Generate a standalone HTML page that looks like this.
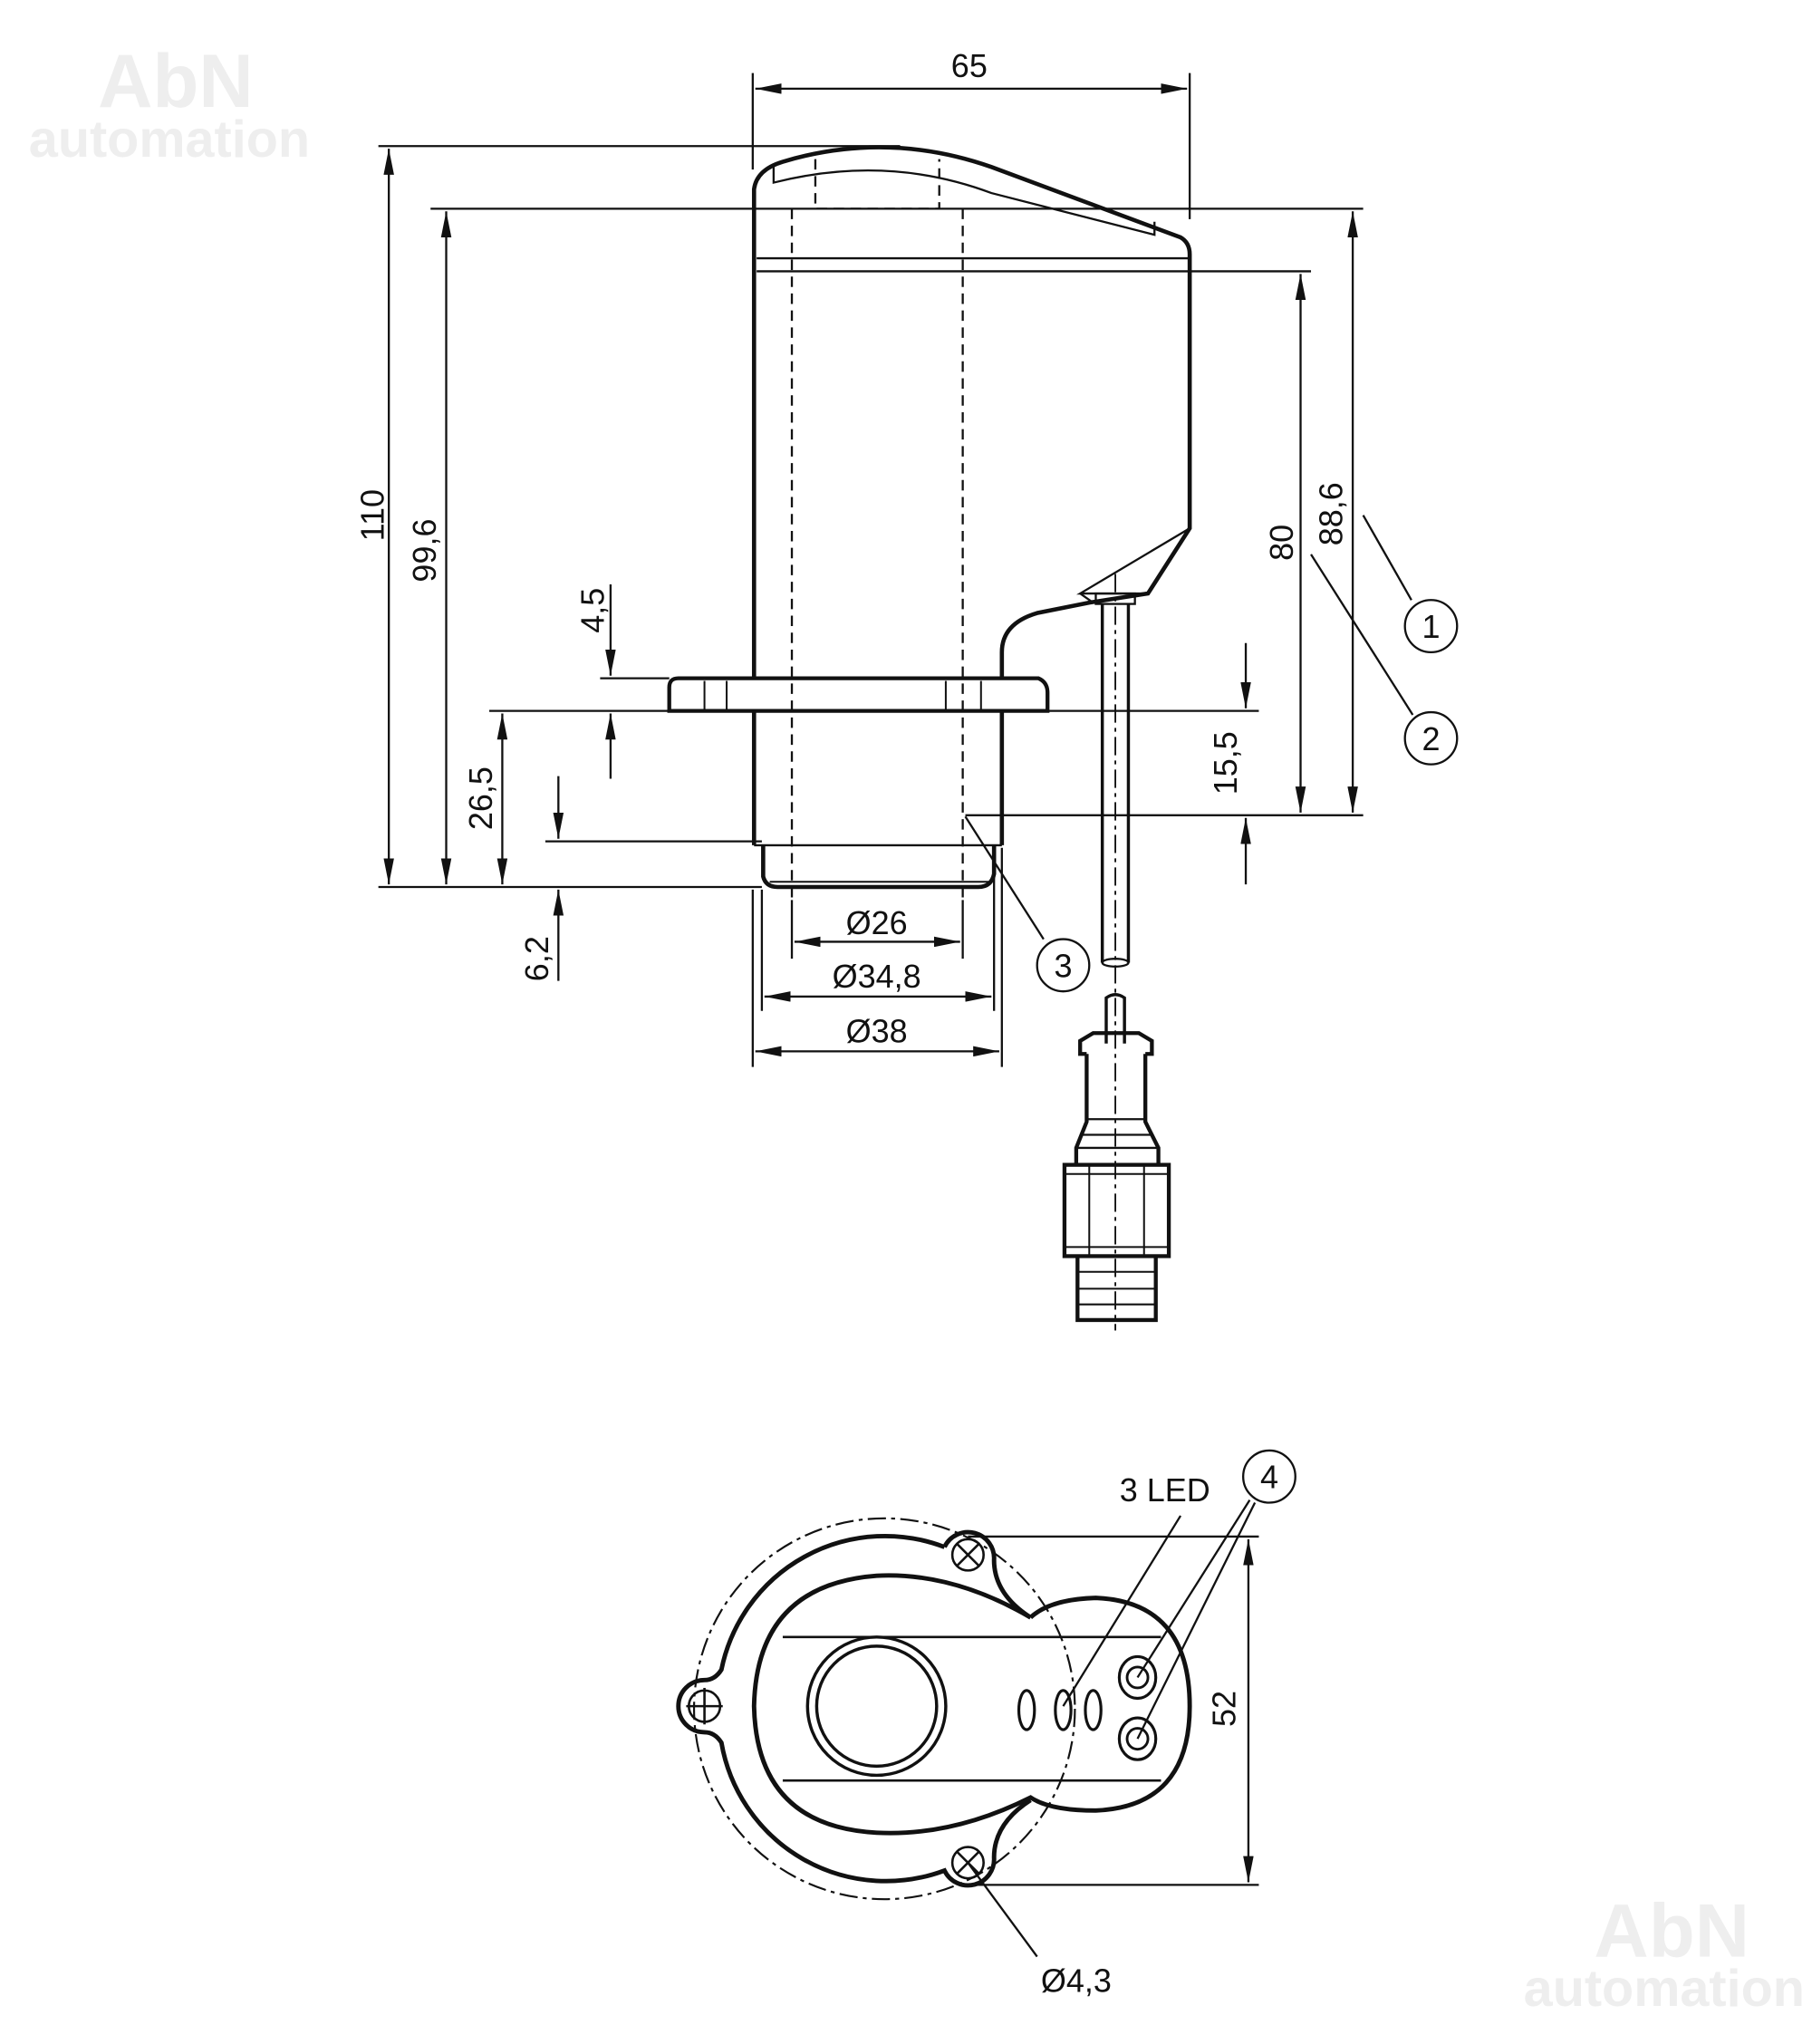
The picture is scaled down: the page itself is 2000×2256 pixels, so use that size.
<!DOCTYPE html>
<html><head><meta charset="utf-8"><style>
html,body{margin:0;padding:0;background:#fff}
svg{display:block}
text{font-family:"Liberation Sans",sans-serif;fill:#111}
</style></head><body>
<svg width="2000" height="2256" viewBox="0 0 1389 1567" xmlns="http://www.w3.org/2000/svg">
<defs>
<marker id="a" viewBox="0 0 20 8" refX="20" refY="4" markerWidth="20" markerHeight="8" markerUnits="userSpaceOnUse" orient="auto-start-reverse"><path d="M0,0 L20,4 L0,8 Z" fill="#111"/></marker>
</defs>
<g font-weight="bold">
<text x="75" y="82" font-size="58" style="fill:#eeeeee">AbN</text>
<text x="22" y="120" font-size="40" style="fill:#eeeeee">automation</text>
<text x="1222" y="1500" font-size="58" style="fill:#eeeeee">AbN</text>
<text x="1168" y="1538" font-size="40" style="fill:#eeeeee">automation</text>
</g>
<g stroke="#111" fill="none" stroke-width="1.6">
<line x1="290" y1="112" x2="690" y2="112"/>
<line x1="330" y1="160" x2="1045" y2="160"/>
<line x1="580" y1="198" x2="912" y2="198"/>
<line x1="580" y1="208" x2="1005" y2="208"/>
<line x1="460" y1="520" x2="513" y2="520"/>
<line x1="375" y1="545" x2="965" y2="545"/>
<line x1="740" y1="625" x2="1045" y2="625"/>
<line x1="418" y1="645" x2="584" y2="645"/>
<line x1="290" y1="680" x2="584" y2="680"/>
<line x1="577" y1="56" x2="577" y2="130"/>
<line x1="912" y1="56" x2="912" y2="168"/>
<line x1="607" y1="690" x2="607" y2="735"/>
<line x1="738" y1="690" x2="738" y2="735"/>
<line x1="584" y1="682" x2="584" y2="775"/>
<line x1="762" y1="650" x2="762" y2="775"/>
<line x1="577" y1="682" x2="577" y2="818"/>
<line x1="768" y1="650" x2="768" y2="818"/>
<line x1="579" y1="68" x2="910" y2="68" marker-start="url(#a)" marker-end="url(#a)"/>
<line x1="298" y1="114" x2="298" y2="678" marker-start="url(#a)" marker-end="url(#a)"/>
<line x1="342" y1="162" x2="342" y2="678" marker-start="url(#a)" marker-end="url(#a)"/>
<line x1="385" y1="547" x2="385" y2="678" marker-start="url(#a)" marker-end="url(#a)"/>
<line x1="468" y1="448" x2="468" y2="518" marker-end="url(#a)"/>
<line x1="468" y1="597" x2="468" y2="547" marker-end="url(#a)"/>
<line x1="428" y1="595" x2="428" y2="643" marker-end="url(#a)"/>
<line x1="428" y1="752" x2="428" y2="682" marker-end="url(#a)"/>
<line x1="997" y1="210" x2="997" y2="623" marker-start="url(#a)" marker-end="url(#a)"/>
<line x1="1037" y1="162" x2="1037" y2="623" marker-start="url(#a)" marker-end="url(#a)"/>
<line x1="955" y1="493" x2="955" y2="543" marker-end="url(#a)"/>
<line x1="955" y1="678" x2="955" y2="627" marker-end="url(#a)"/>
<line x1="609" y1="722" x2="736" y2="722" marker-start="url(#a)" marker-end="url(#a)"/>
<line x1="586" y1="764" x2="760" y2="764" marker-start="url(#a)" marker-end="url(#a)"/>
<line x1="579" y1="806" x2="766" y2="806" marker-start="url(#a)" marker-end="url(#a)"/>
<line x1="1045" y1="395" x2="1082" y2="460"/>
<line x1="1005" y1="425" x2="1083" y2="548"/>
<line x1="740" y1="626" x2="800" y2="720"/>
<circle cx="1097" cy="480" r="20"/>
<circle cx="1097" cy="566" r="20"/>
<circle cx="815" cy="740" r="20"/>
</g>
<g stroke="#111" fill="none">
<path d="M578,520 L578,145 Q580,130 600,124 Q680,100 760,128 L905,182 Q912,186 912,195 L912,405 L880,455 L835,462 L795,470 Q768,478 768,500 L768,520" stroke-width="3.2"/>
<path d="M593,128 L593,140 Q680,118 760,148 L885,180 L885,170" stroke-width="1.6"/>
<path d="M880,455 L828,455 L912,405" stroke-width="1.6"/>
<path d="M828,455 L838,462" stroke-width="1.6"/>
<path d="M625,122 L625,160 L720,160 L720,122" stroke-width="1.6" stroke-dasharray="8,5"/>
<line x1="607" y1="160" x2="607" y2="690" stroke-width="1.6" stroke-dasharray="8,5"/>
<line x1="738" y1="160" x2="738" y2="690" stroke-width="1.6" stroke-dasharray="8,5"/>
<path d="M513,545 L513,527 Q513,520 520,520 L796,520 Q803,523 803,531 L803,545 Z" stroke-width="3"/>
<line x1="540" y1="522" x2="540" y2="545" stroke-width="1.4"/>
<line x1="557" y1="522" x2="557" y2="545" stroke-width="1.4"/>
<line x1="752" y1="522" x2="752" y2="545" stroke-width="1.4"/>
<line x1="725" y1="522" x2="725" y2="545" stroke-width="1.4"/>
<line x1="578" y1="545" x2="578" y2="648" stroke-width="3.2"/>
<line x1="768" y1="545" x2="768" y2="648" stroke-width="3.2"/>
<line x1="578" y1="648" x2="768" y2="648" stroke-width="1.6"/>
<path d="M585,648 L585,672 Q587,680 596,680 L750,680 Q760,680 762,670 L762,648" stroke-width="3.2"/>
<line x1="590" y1="676" x2="758" y2="676" stroke-width="1.4"/>
<rect x="840" y="455" width="30" height="8" stroke-width="1.6"/>
<path d="M845,463 L845,738 M865,463 L865,738" stroke-width="2.4"/>
<ellipse cx="855" cy="738" rx="10" ry="3" stroke-width="1.6"/>
<path d="M848,800 L848,765 Q855,760 862,765 L862,800" stroke-width="2.4"/>
<line x1="855" y1="440" x2="855" y2="1020" stroke-width="1.3" stroke-dasharray="14,4,3,4"/>
<path d="M833,808 L828,808 L828,798 L838,792 L873,792 L883,798 L883,808 L878,808" stroke-width="3"/>
<path d="M833,808 L833,860 L825,880 L825,893 M878,808 L878,860 L888,880 L888,893" stroke-width="3"/>
<line x1="833" y1="858" x2="878" y2="858" stroke-width="1.6"/>
<line x1="828" y1="870" x2="883" y2="870" stroke-width="1.6"/>
<line x1="825" y1="880" x2="888" y2="880" stroke-width="1.6"/>
<rect x="816" y="893" width="80" height="70" stroke-width="3"/>
<line x1="816" y1="900" x2="896" y2="900" stroke-width="1.4"/>
<line x1="816" y1="956" x2="896" y2="956" stroke-width="1.4"/>
<line x1="835" y1="893" x2="835" y2="963" stroke-width="1.4"/>
<line x1="877" y1="893" x2="877" y2="963" stroke-width="1.4"/>
<path d="M826,963 L826,1012 L886,1012 L886,963" stroke-width="3"/>
<line x1="826" y1="975" x2="886" y2="975" stroke-width="1.4"/>
<line x1="826" y1="988" x2="886" y2="988" stroke-width="1.4"/>
<line x1="826" y1="1000" x2="886" y2="1000" stroke-width="1.4"/>
</g>
<g stroke="#111" fill="none">
<circle cx="678" cy="1310" r="146" stroke-width="1.5" stroke-dasharray="14,4,3,4"/>
<path d="M724,1186 A128,128 0 0 0 553,1280 Q548,1288 540,1288 A20,20 0 0 0 540,1328 Q548,1328 553,1336 A128,128 0 0 0 724,1434 A20,20 0 0 0 762,1424 Q762,1398 790,1380" stroke-width="3.4"/>
<path d="M724,1186 A20,20 0 0 1 762,1196 Q762,1222 790,1240" stroke-width="3.4"/>
<path d="M790,1240 Q730,1205 672,1208 Q580,1215 578,1308 Q580,1400 672,1405 Q730,1408 790,1378 Q805,1388 840,1388 Q912,1385 912,1308 Q912,1228 840,1225 Q805,1226 790,1240" stroke-width="3.4"/>
<line x1="600" y1="1255" x2="890" y2="1255" stroke-width="1.8"/>
<line x1="600" y1="1365" x2="890" y2="1365" stroke-width="1.8"/>
<circle cx="672" cy="1308" r="53" stroke-width="2.4"/>
<circle cx="672" cy="1308" r="46" stroke-width="2.4"/>
<ellipse cx="787" cy="1311" rx="6" ry="15" stroke-width="2.2"/>
<ellipse cx="815" cy="1311" rx="6" ry="15" stroke-width="2.2"/>
<ellipse cx="838" cy="1311" rx="6" ry="15" stroke-width="2.2"/>
<ellipse cx="872" cy="1286" rx="14" ry="16" stroke-width="2.2"/>
<circle cx="872" cy="1286" r="8" stroke-width="2"/>
<ellipse cx="872" cy="1333" rx="14" ry="16" stroke-width="2.2"/>
<circle cx="872" cy="1333" r="8" stroke-width="2"/>
<g stroke-width="1.8">
<circle cx="540" cy="1308" r="12"/><line x1="526" y1="1308" x2="554" y2="1308"/><line x1="540" y1="1294" x2="540" y2="1322"/>
<circle cx="742" cy="1192" r="12"/><line x1="734" y1="1184" x2="750" y2="1200"/><line x1="750" y1="1184" x2="734" y2="1200"/>
<circle cx="742" cy="1428" r="12"/><line x1="734" y1="1420" x2="750" y2="1436"/><line x1="750" y1="1420" x2="734" y2="1436"/>
</g>
<g stroke-width="1.6">
<line x1="742" y1="1178" x2="965" y2="1178"/>
<line x1="742" y1="1445" x2="965" y2="1445"/>
<line x1="957" y1="1180" x2="957" y2="1443" marker-start="url(#a)" marker-end="url(#a)"/>
<line x1="905" y1="1162" x2="815" y2="1308"/>
<line x1="958" y1="1150" x2="872" y2="1286"/>
<line x1="962" y1="1152" x2="872" y2="1333"/>
<line x1="742" y1="1428" x2="795" y2="1500"/>
<circle cx="973" cy="1132" r="20"/>
</g>
</g>
<g font-size="25">
<text x="743" y="59" text-anchor="middle">65</text>
<text transform="translate(294,395) rotate(-90)" text-anchor="middle">110</text>
<text transform="translate(334,422) rotate(-90)" text-anchor="middle">99,6</text>
<text transform="translate(377,612) rotate(-90)" text-anchor="middle">26,5</text>
<text transform="translate(463,468) rotate(-90)" text-anchor="middle">4,5</text>
<text transform="translate(420,735) rotate(-90)" text-anchor="middle">6,2</text>
<text transform="translate(991,416) rotate(-90)" text-anchor="middle">80</text>
<text transform="translate(1029,394) rotate(-90)" text-anchor="middle">88,6</text>
<text transform="translate(948,585) rotate(-90)" text-anchor="middle">15,5</text>
<text transform="translate(947,1310) rotate(-90)" text-anchor="middle">52</text>
<text x="672" y="716" text-anchor="middle">Ø26</text>
<text x="672" y="757" text-anchor="middle">Ø34,8</text>
<text x="672" y="799" text-anchor="middle">Ø38</text>
<text x="893" y="1151" text-anchor="middle">3 LED</text>
<text x="825" y="1527" text-anchor="middle">Ø4,3</text>
<text x="1097" y="489" text-anchor="middle">1</text>
<text x="1097" y="575" text-anchor="middle">2</text>
<text x="815" y="749" text-anchor="middle">3</text>
<text x="973" y="1141" text-anchor="middle">4</text>
</g>
</svg>
</body></html>
